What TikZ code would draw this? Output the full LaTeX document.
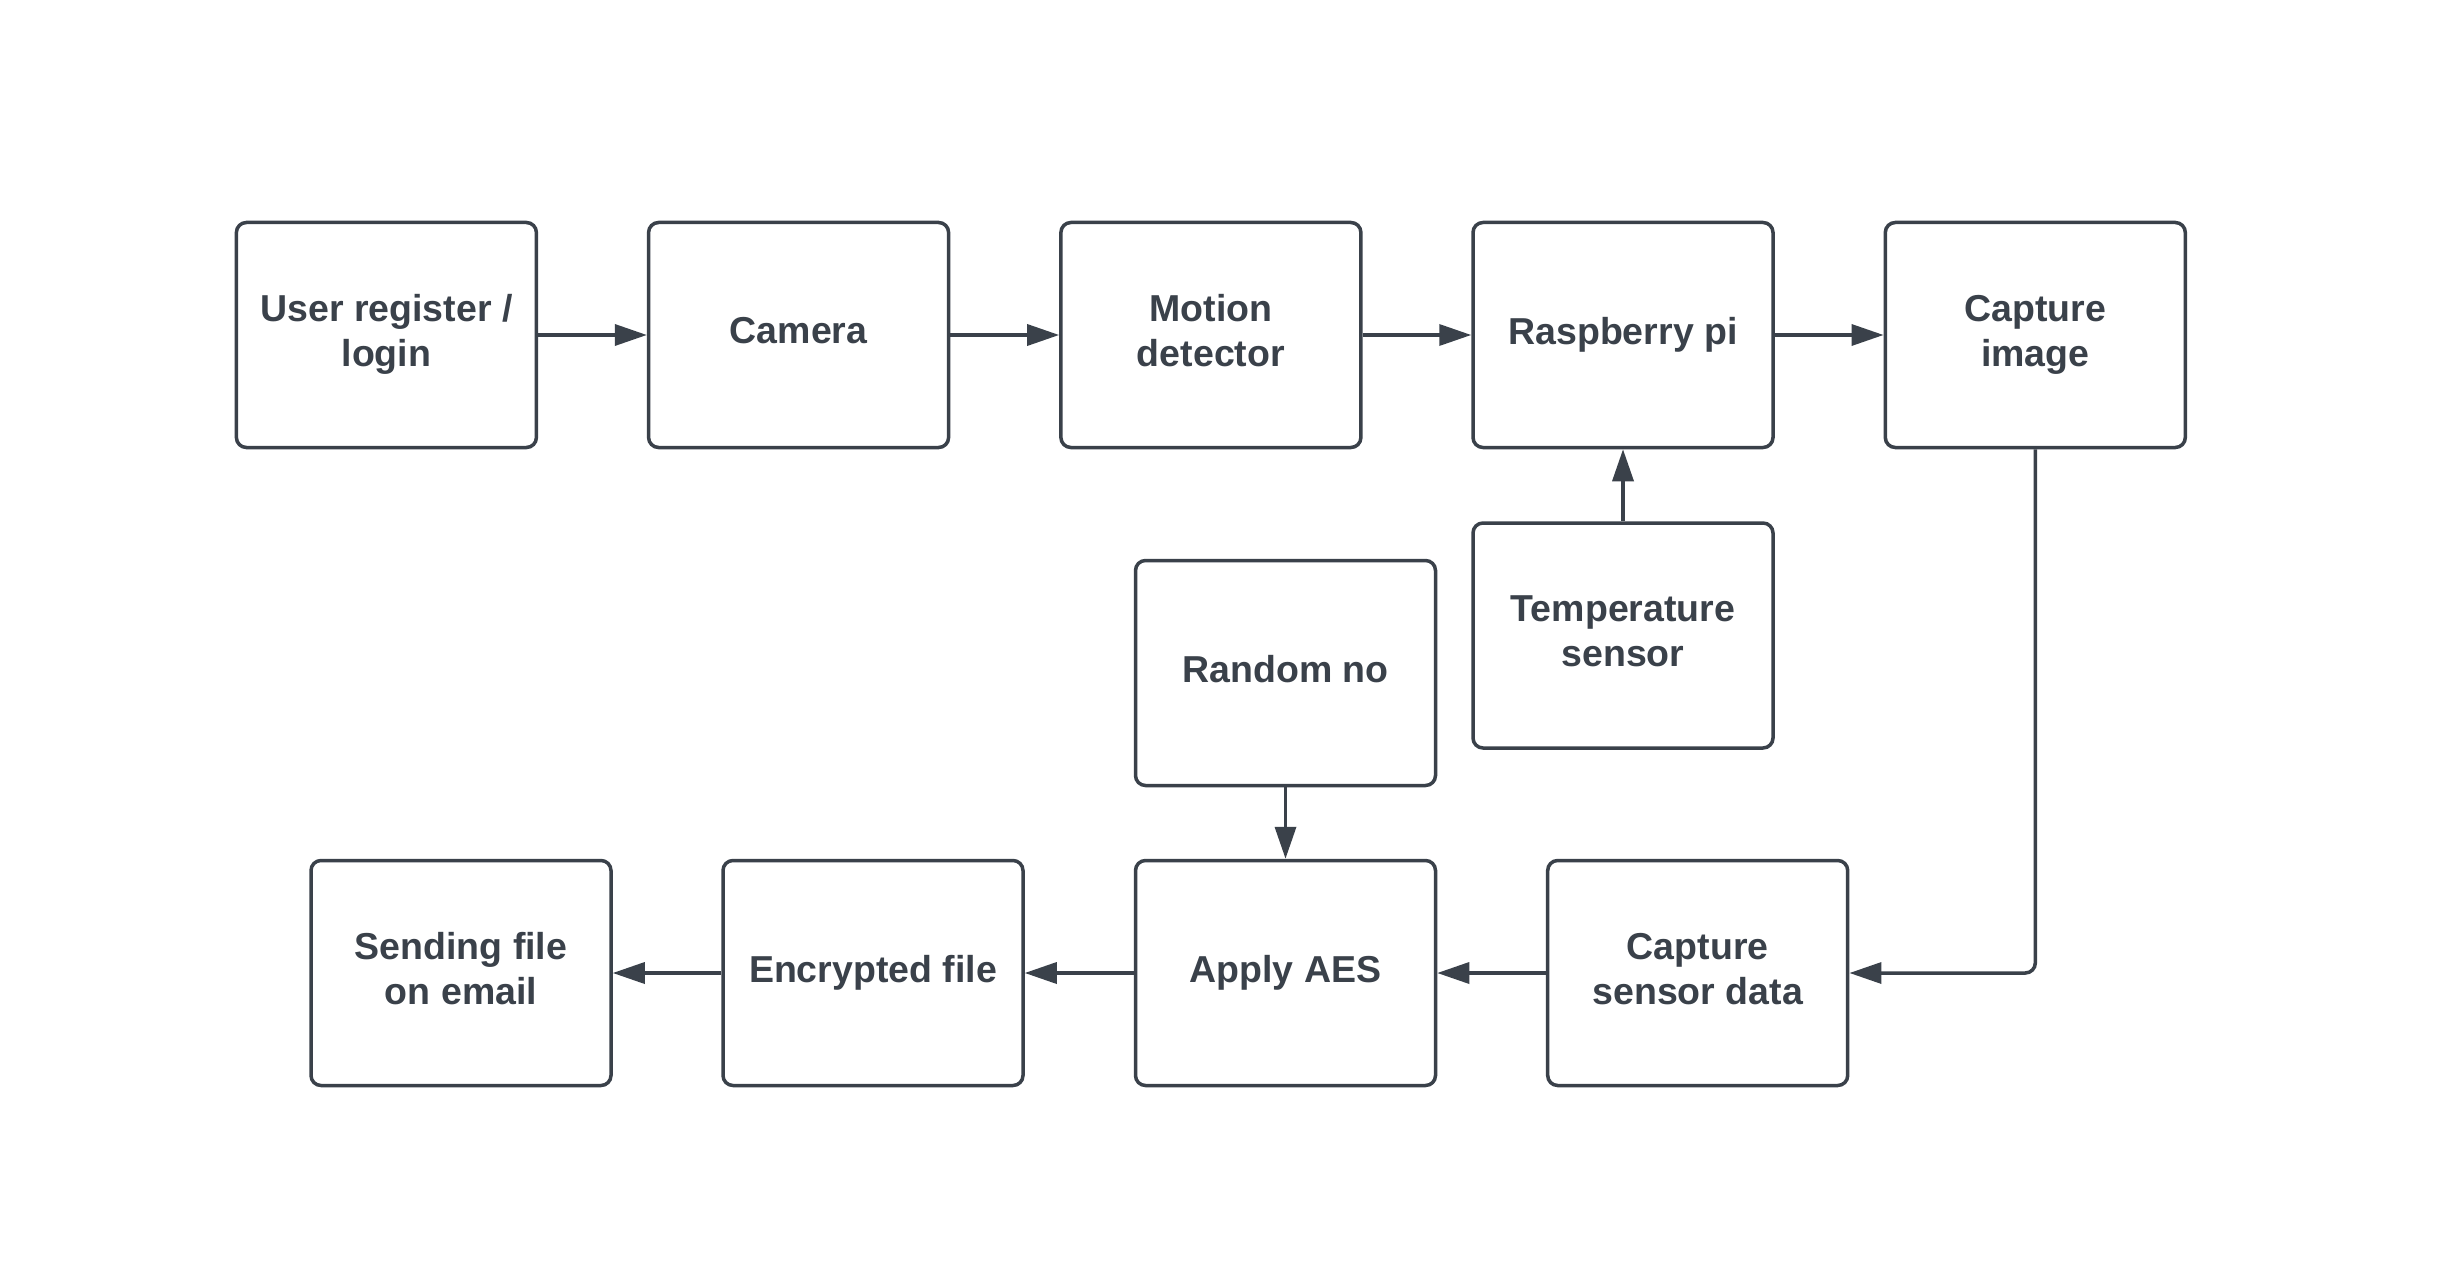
\documentclass[tikz,border=0pt]{standalone}
\usepackage{fontspec}
\setmainfont{Liberation Sans}
\usetikzlibrary{arrows.meta}
\definecolor{ink}{HTML}{3A414A}
\begin{document}
\begin{tikzpicture}[x=1pt,y=-1pt,
  box/.style={draw=ink, line width=3.5pt, rounded corners=10pt,
    minimum width=300pt, minimum height=225pt, inner sep=0pt,
    label={[txt]center:{#1}}},
  txt/.style={align=center, text=ink, inner sep=0pt, yshift=4.5pt,
    text depth=0pt, font=\fontsize{37.5}{45}\selectfont\bfseries},
  conn/.style={draw=ink, line width=3.5pt, rounded corners=10pt,
    -{Triangle[length=32pt,width=21pt]}}]
\path[fill=white] (0,0) rectangle (2439,1281);
% top row
\node[box={User register /\\login}] (user) at (386.4,335) {};
\node[box={Camera}]                  (cam)  at (798.6,335) {};
\node[box={Motion\\detector}]        (mot)  at (1210.9,335) {};
\node[box={Raspberry pi}]            (rpi)  at (1623,335) {};
\node[box={Capture\\image}]          (capi) at (2035.3,335) {};
% middle
\node[box={Temperature\\sensor}]     (temp) at (1623,635.5) {};
\node[box={Random no}]               (rnd)  at (1285.5,673) {};
% bottom row
\node[box={Sending file\\on email}]  (send) at (461,973) {};
\node[box={Encrypted file}]          (enc)  at (873,973) {};
\node[box={Apply AES}]               (aes)  at (1285.5,973) {};
\node[box={Capture\\sensor data}]    (caps) at (1697.7,973) {};
% connectors
\draw[conn] (user) -- (cam);
\draw[conn] (cam) -- (mot);
\draw[conn] (mot) -- (rpi);
\draw[conn] (rpi) -- (capi);
\draw[conn] (temp) -- (rpi);
\draw[conn] (capi.south) |- (caps.east);
\draw[conn] (rnd) -- (aes);
\draw[conn] (caps) -- (aes);
\draw[conn] (aes) -- (enc);
\draw[conn] (enc) -- (send);
\end{tikzpicture}
\end{document}
